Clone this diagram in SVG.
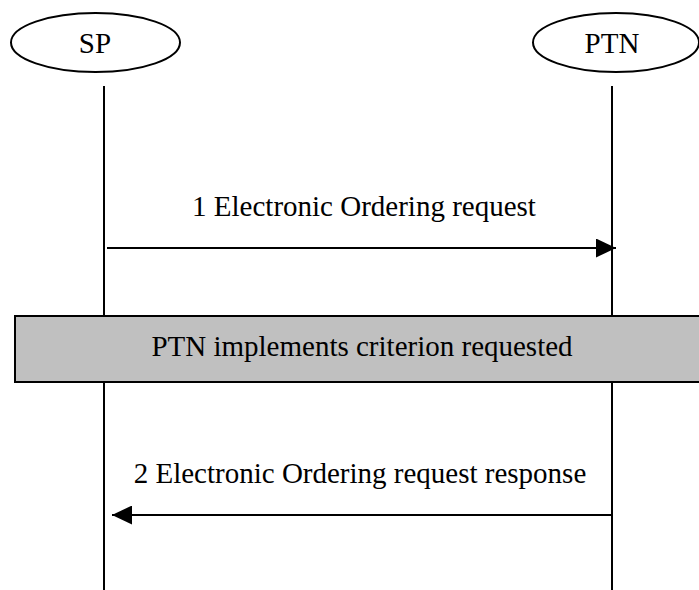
<svg xmlns="http://www.w3.org/2000/svg" width="699" height="590" viewBox="0 0 699 590">
<style>
text{font-family:"Liberation Serif","Times New Roman",serif;font-size:29px;fill:#000;text-anchor:middle}
.ln{stroke:#000;stroke-width:2;fill:none}
</style>
<defs>
<marker id="ah" markerWidth="20" markerHeight="19" refX="20" refY="9.5" orient="auto" markerUnits="userSpaceOnUse"><path d="M0,0 L20,9.5 L0,19 Z" fill="#000"/></marker>
</defs>
<rect width="699" height="590" fill="#fff"/>
<g id="lifelines">
<line class="ln" x1="104" y1="86" x2="104" y2="590"/>
<line class="ln" x1="612" y1="86" x2="612" y2="590"/>
</g>
<g id="SP">
<ellipse cx="95.5" cy="42.5" rx="84.5" ry="29.5" class="ln"/>
<text x="95" y="53">SP</text>
</g>
<g id="PTN">
<ellipse cx="616" cy="42.5" rx="83" ry="29.5" class="ln"/>
<text x="612" y="53">PTN</text>
</g>
<g id="connectors">
<line class="ln" x1="107" y1="248" x2="616" y2="248" marker-end="url(#ah)"/>
<text x="364" y="216">1 Electronic Ordering request</text>
<line class="ln" x1="612" y1="515" x2="112" y2="515" marker-end="url(#ah)"/>
<text x="360" y="483">2 Electronic Ordering request response</text>
</g>
<g id="activity">
<rect x="15" y="316" width="690" height="66" fill="#c0c0c0" stroke="#000" stroke-width="2"/>
<text x="362" y="356">PTN implements criterion requested</text>
</g>
</svg>
